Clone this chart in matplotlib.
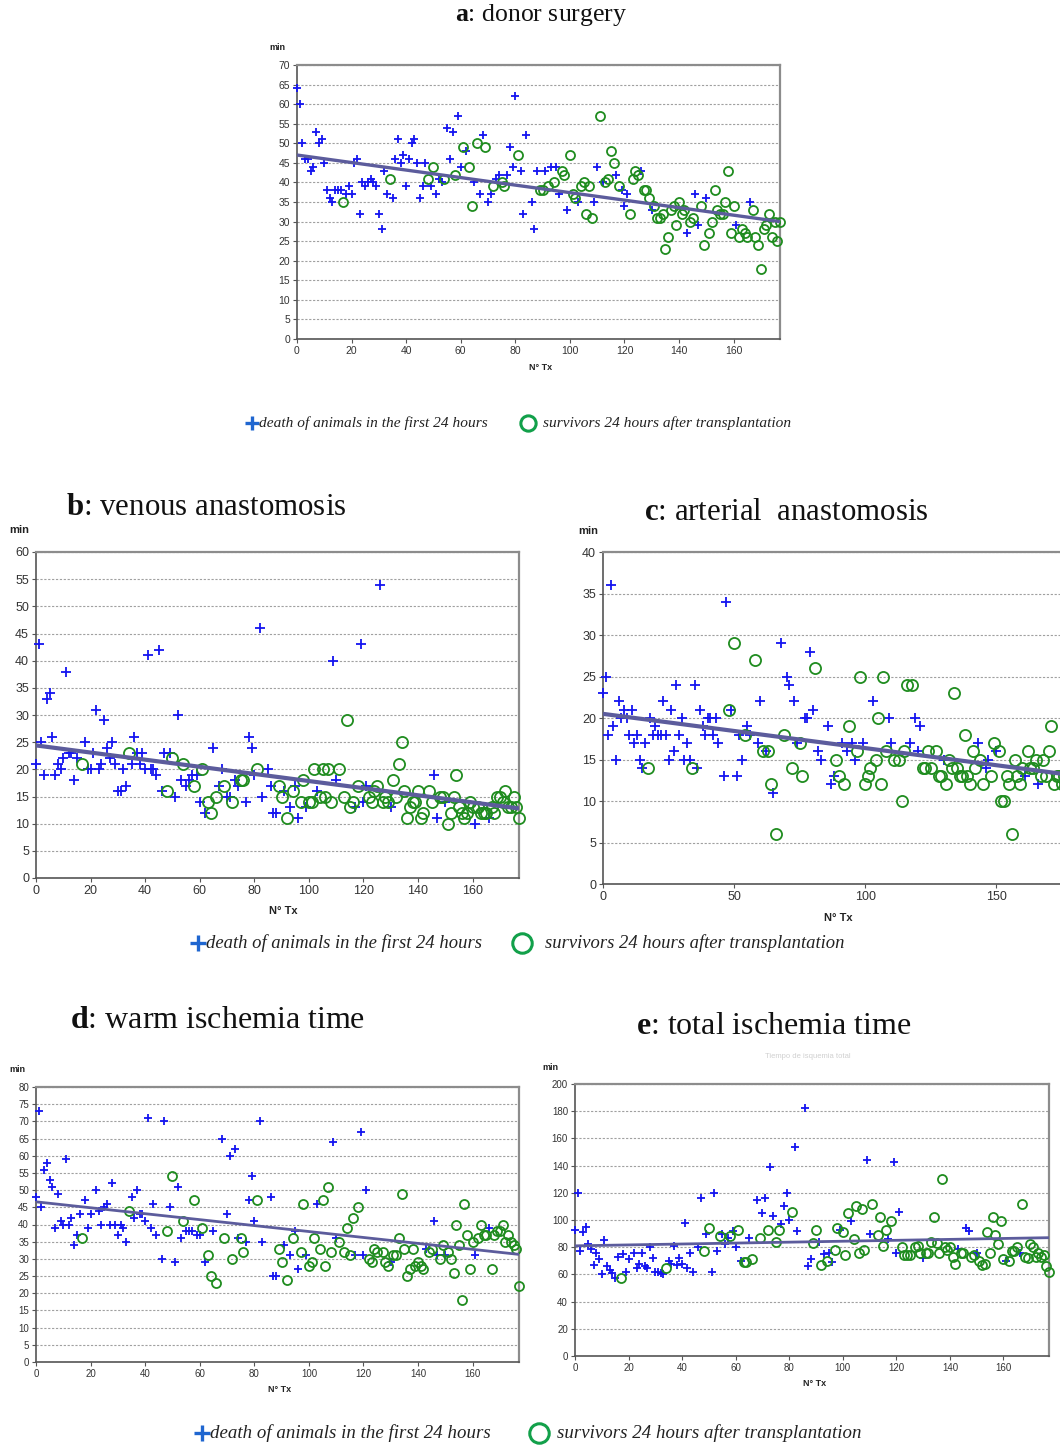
import matplotlib
matplotlib.use("Agg")
import matplotlib.pyplot as plt
from matplotlib.lines import Line2D

plt.rcParams['font.family'] = ['Liberation Sans', 'DejaVu Sans']
plt.rcParams['mathtext.fontset'] = 'custom'
plt.rcParams['mathtext.rm'] = 'Liberation Serif'
plt.rcParams['mathtext.bf'] = 'Liberation Serif:bold'

# ---------------- data ----------------
a_death = [(0,64),(1,60),(2,50),(3,46),(4,46),(5,43),(6,44),(7,53),(8,50),(9,51),(10,45),(11,38),(12,36),(13,35),(14,38),(15,38),(16,38),(18,37),(19,39),(20,37),(21,45),(22,46),(23,32),(24,40),(25,39),(26,40),(27,41),(28,40),(29,39),(30,32),(31,28),(32,43),(33,37),(35,36),(36,46),(37,51),(38,45),(39,47),(40,39),(41,46),(42,50),(43,51),(44,45),(45,36),(46,39),(47,45),(49,39),(51,37),(52,41),(53,40),(55,54),(56,46),(57,53),(59,57),(60,44),(62,48),(65,40),(67,37),(68,52),(70,35),(71,37),(73,41),(74,42),(77,42),(78,49),(79,44),(80,62),(82,43),(83,32),(84,52),(86,35),(87,28),(88,43),(91,43),(93,44),(95,44),(96,37),(99,33),(103,35),(109,35),(110,44),(112,40),(117,42),(119,38),(120,34),(121,37),(126,43),(130,33),(143,27),(146,37),(147,29),(150,36),(161,29),(166,35)]
a_surv = [(17,35),(34,41),(48,41),(50,44),(54,41),(58,42),(61,49),(63,44),(64,34),(66,50),(69,49),(72,39),(75,40),(76,39),(81,47),(89,38),(90,38),(92,39),(94,40),(97,43),(98,42),(100,47),(101,37),(102,36),(104,39),(105,40),(106,32),(107,39),(108,31),(111,57),(113,40),(114,41),(115,48),(116,45),(118,39),(122,32),(123,41),(124,43),(125,42),(127,38),(128,38),(129,36),(131,34),(132,31),(133,31),(134,32),(135,23),(136,26),(137,33),(138,34),(139,29),(140,35),(141,32),(142,33),(144,30),(145,31),(148,34),(149,24),(151,27),(152,30),(153,38),(154,33),(155,32),(156,32),(157,35),(158,43),(159,27),(160,34),(162,26),(163,28),(164,27),(165,26),(167,33),(168,26),(169,24),(170,18),(171,28),(172,29),(173,32),(174,26),(175,30),(176,25),(177,30)]
a_trend = [47, 30]

b_death = [(0,21),(1,43),(2,25),(3,19),(4,33),(5,34),(6,26),(7,19),(8,21),(9,20),(10,22),(11,38),(12,23),(13,23),(14,18),(15,22),(18,25),(19,20),(20,20),(21,23),(22,31),(23,20),(24,21),(25,29),(26,24),(27,22),(28,25),(29,21),(30,16),(31,16),(32,20),(33,17),(35,21),(36,26),(37,23),(38,21),(39,23),(40,20),(41,41),(42,20),(43,20),(44,19),(45,42),(46,16),(47,23),(49,23),(51,15),(52,30),(53,18),(55,17),(56,18),(57,19),(59,19),(60,14),(62,12),(65,24),(67,17),(68,20),(70,15),(71,15),(73,18),(74,17),(77,14),(78,26),(79,24),(80,19),(82,46),(83,15),(85,20),(86,17),(87,12),(88,12),(91,16),(93,13),(95,17),(96,11),(99,13),(103,16),(109,40),(110,18),(117,13),(119,43),(120,14),(121,17),(126,54),(130,13),(146,19),(147,11),(150,14),(161,10),(166,11)]
b_surv = [(17,21),(34,23),(48,16),(50,22),(54,21),(58,17),(61,20),(63,14),(64,12),(66,15),(69,17),(72,14),(75,18),(76,18),(81,20),(89,17),(90,15),(92,11),(94,16),(97,14),(98,18),(100,14),(101,14),(102,20),(104,15),(105,20),(106,15),(107,20),(108,14),(111,20),(113,15),(114,29),(115,13),(116,14),(118,17),(122,15),(123,14),(124,16),(125,17),(127,14),(128,15),(129,14),(131,18),(132,15),(133,21),(134,25),(135,16),(136,11),(137,13),(138,14),(139,14),(140,16),(141,11),(142,12),(144,16),(145,14),(148,15),(149,15),(151,10),(152,12),(153,15),(154,19),(155,13),(156,12),(157,11),(158,12),(159,14),(160,13),(162,13),(163,12),(164,12),(165,12),(167,13),(168,12),(169,15),(170,15),(171,14),(172,16),(173,13),(174,13),(175,15),(176,13),(177,11)]
b_trend = [24.4, 12.8]

c_death = [(0,23),(1,25),(2,18),(3,36),(4,19),(5,15),(6,22),(7,20),(8,21),(9,20),(10,18),(11,21),(12,17),(13,18),(14,15),(15,14),(16,17),(18,20),(19,18),(20,19),(21,18),(22,18),(23,22),(24,18),(25,15),(26,21),(27,16),(28,24),(29,18),(30,20),(31,15),(32,17),(33,15),(35,24),(36,14),(37,21),(38,19),(39,18),(40,20),(41,20),(42,18),(43,20),(44,17),(46,13),(47,34),(49,21),(51,13),(52,18),(53,15),(55,19),(56,18),(59,17),(60,22),(62,16),(65,11),(68,29),(70,25),(71,24),(73,22),(74,17),(77,20),(78,20),(79,28),(80,21),(82,16),(83,15),(86,19),(87,12),(88,13),(91,17),(93,16),(95,17),(96,15),(99,17),(103,22),(109,20),(110,17),(117,17),(119,20),(120,16),(121,19),(130,15),(143,17),(146,14),(147,15),(150,16),(161,13),(166,12)]
c_surv = [(17,14),(34,14),(48,21),(50,29),(54,18),(58,27),(61,16),(63,16),(64,12),(66,6),(69,18),(72,14),(75,17),(76,13),(81,26),(89,15),(90,13),(92,12),(94,19),(97,16),(98,25),(100,12),(101,13),(102,14),(104,15),(105,20),(106,12),(107,25),(108,16),(111,15),(113,15),(114,10),(115,16),(116,24),(118,24),(122,14),(123,14),(124,16),(125,14),(127,16),(128,13),(129,13),(131,12),(132,15),(133,14),(134,23),(135,14),(136,13),(137,13),(138,18),(139,13),(140,12),(141,16),(142,14),(144,15),(145,12),(148,13),(149,17),(151,16),(152,10),(153,10),(154,13),(155,12),(156,6),(157,15),(158,13),(159,12),(160,14),(162,16),(163,14),(164,14),(165,15),(167,13),(168,15),(169,13),(170,16),(171,19),(172,12),(173,13),(174,13),(175,12),(176,13),(177,14)]
c_trend = [20.5, 13.2]

d_death = [(0,48),(1,73),(2,45),(3,56),(4,58),(5,53),(6,51),(7,39),(8,49),(9,41),(10,40),(11,59),(12,40),(13,42),(14,34),(15,37),(16,43),(18,47),(19,39),(20,43),(22,50),(23,44),(24,40),(25,45),(26,46),(27,40),(28,52),(29,40),(30,37),(31,40),(32,39),(33,35),(35,48),(36,42),(37,50),(38,43),(39,43),(40,41),(41,71),(42,39),(43,46),(44,37),(46,30),(47,70),(49,45),(51,29),(52,51),(53,36),(55,38),(56,38),(57,38),(59,37),(60,37),(62,29),(65,38),(68,65),(70,43),(71,60),(73,62),(74,36),(77,35),(78,47),(79,54),(80,41),(82,70),(83,35),(86,48),(87,25),(88,25),(91,34),(93,31),(95,38),(96,27),(99,31),(103,46),(109,64),(110,36),(117,31),(119,67),(120,31),(121,50),(130,29),(143,33),(146,41),(147,31),(150,31),(161,31),(166,39)]
d_surv = [(17,36),(34,44),(48,38),(50,54),(54,41),(58,47),(61,39),(63,31),(64,25),(66,23),(69,36),(72,30),(75,36),(76,32),(81,47),(89,33),(90,29),(92,24),(94,36),(97,32),(98,46),(100,28),(101,29),(102,36),(104,33),(105,47),(106,28),(107,51),(108,32),(111,35),(113,32),(114,39),(115,31),(116,42),(118,45),(122,30),(123,29),(124,33),(125,32),(127,32),(128,29),(129,28),(131,31),(132,31),(133,36),(134,49),(135,33),(136,25),(137,27),(138,33),(139,28),(140,29),(141,28),(142,27),(144,32),(145,33),(148,30),(149,34),(151,32),(152,30),(153,26),(154,40),(155,34),(156,18),(157,46),(158,37),(159,27),(160,35),(162,36),(163,40),(164,37),(165,37),(167,27),(168,37),(169,38),(170,38),(171,40),(172,35),(173,37),(174,35),(175,34),(176,33),(177,22)]
d_trend = [46.6, 31.3]

e_death = [(0,93),(1,120),(2,77),(3,91),(4,95),(5,82),(6,79),(7,67),(8,76),(9,71),(10,60),(11,85),(12,66),(13,63),(14,61),(15,57),(16,73),(18,75),(19,62),(20,71),(22,76),(23,65),(24,68),(25,76),(26,66),(27,65),(28,80),(29,72),(30,62),(31,62),(32,61),(33,60),(35,70),(36,68),(37,81),(38,67),(39,72),(40,68),(41,98),(42,65),(43,76),(44,62),(46,80),(47,116),(49,90),(51,62),(52,120),(53,77),(55,90),(56,82),(57,87),(59,92),(60,80),(62,70),(65,87),(68,115),(70,105),(71,116),(73,139),(74,103),(77,97),(78,110),(79,120),(80,100),(82,154),(83,92),(86,182),(87,66),(88,71),(91,84),(93,75),(95,76),(96,69),(99,93),(103,99),(109,144),(110,90),(117,86),(119,143),(120,76),(121,106),(130,72),(143,79),(146,94),(147,92),(150,76),(161,70),(166,76)]
e_surv = [(17,57),(34,65),(48,77),(50,94),(54,88),(58,88),(61,93),(63,69),(64,69),(66,71),(69,87),(72,93),(75,84),(76,93),(81,106),(89,83),(90,93),(92,67),(94,70),(97,78),(98,94),(100,91),(101,74),(102,105),(104,86),(105,110),(106,76),(107,108),(108,78),(111,112),(113,89),(114,102),(115,81),(116,93),(118,99),(122,80),(123,74),(124,74),(125,74),(127,80),(128,81),(129,76),(131,76),(132,76),(133,84),(134,102),(135,83),(136,76),(137,130),(138,80),(139,78),(140,80),(141,73),(142,68),(144,76),(145,76),(148,73),(149,74),(151,70),(152,67),(153,68),(154,91),(155,76),(156,102),(157,89),(158,82),(159,99),(160,71),(162,70),(163,77),(164,77),(165,80),(167,112),(168,73),(169,72),(170,82),(171,80),(172,73),(173,76),(174,73),(175,74),(176,66),(177,62)]
e_trend = [81, 87]

trend_x = [0, 177]

titles = {'a': 'donor surgery', 'b': 'venous anastomosis', 'c': 'arterial  anastomosis',
          'd': 'warm ischemia time', 'e': 'total ischemia time'}
legend_death = 'death of animals in the first 24 hours'
legend_surv = 'survivors 24 hours after transplantation'

# ---------------- figure ----------------
W, H = 1060, 1445
fig = plt.figure(figsize=(W / 100, H / 100), dpi=100)


def px_axes(l, t, r, b):
    return fig.add_axes([l / W, 1 - b / H, (r - l) / W, (b - t) / H])


BLUE = '#1414f0'
GREEN = '#1f8c1f'
LINE = '#5c5c9c'


def panel(rect, death, surv, trend, yticks, xticks, fs_tick, ms_plus, ms_circ, lw_line,
          minpos, txpos, fs_lab):
    ax = px_axes(*rect)
    ymax = yticks[-1]
    ax.set_xlim(0, 177)
    ax.set_ylim(0, ymax)
    ax.set_yticks(yticks)
    ax.set_xticks(xticks)
    ax.yaxis.grid(True, color='#a0a0a0', linestyle=(0, (2, 1.5)), linewidth=0.8)
    ax.set_axisbelow(True)
    for s in ['top', 'right']:
        ax.spines[s].set_color('#8c8c8c')
        ax.spines[s].set_linewidth(1.6)
    for s in ['left', 'bottom']:
        ax.spines[s].set_color('#555555')
        ax.spines[s].set_linewidth(1.2)
    ax.tick_params(direction='out', length=3, width=0.8, color='#555555',
                   labelsize=fs_tick, labelcolor='#333333', pad=2)
    ax.plot([p[0] for p in death], [p[1] for p in death], linestyle='none', marker='+',
            color=BLUE, markersize=ms_plus, markeredgewidth=1.3, clip_on=False, zorder=3)
    ax.plot([p[0] for p in surv], [p[1] for p in surv], linestyle='none', marker='o',
            markerfacecolor='none', markeredgecolor=GREEN, markersize=ms_circ,
            markeredgewidth=1.3, clip_on=False, zorder=3)
    ax.plot(trend_x, trend, color=LINE, linewidth=lw_line, zorder=4, solid_capstyle='butt')
    fig.text(minpos[0] / W, 1 - minpos[1] / H, 'min', fontsize=fs_lab, fontweight='bold',
             ha='left', va='center', color='#222222')
    fig.text(txpos[0] / W, 1 - txpos[1] / H, 'N° Tx', fontsize=fs_lab, fontweight='bold',
             ha='center', va='center', color='#222222')
    return ax


panel((297, 65, 780, 339), a_death, a_surv, a_trend, list(range(0, 71, 5)),
      list(range(0, 161, 20)), 7.5, 6, 6.5, 2.4, (269, 47), (541, 367), 6.5)
panel((36, 552, 519, 878), b_death, b_surv, b_trend, list(range(0, 61, 5)),
      list(range(0, 161, 20)), 9, 7, 8, 3, (9, 530), (283, 911), 8)
panel((603, 552, 1067, 884), c_death, c_surv, c_trend, list(range(0, 41, 5)),
      [0, 50, 100, 150], 9, 7, 8, 3, (578, 531), (838, 918), 8)
panel((36, 1087, 519, 1362), d_death, d_surv, d_trend, list(range(0, 81, 5)),
      list(range(0, 161, 20)), 7, 6, 6.5, 2, (9, 1070), (280, 1389), 6.5)
panel((575, 1084, 1049, 1356), e_death, e_surv, e_trend, list(range(0, 201, 20)),
      list(range(0, 161, 20)), 7, 6, 6.5, 2, (542, 1067), (815, 1384), 6.5)

# titles
title_pos = {'a': (541, 15, 18.5), 'b': (206, 507, 22.2), 'c': (786, 512, 22.2),
             'd': (218, 1021, 23), 'e': (774, 1026, 23)}
for k, (x, y, fs) in title_pos.items():
    fig.text(x / W, 1 - y / H, r'$\mathbf{' + k + '}$: ' + titles[k], fontsize=fs,
             family='Liberation Serif', ha='center', va='center', color='#111111')

fig.text(808 / W, 1 - 1057 / H, 'Tiempo de isquemia total', fontsize=5.5,
         color='#d0d0d0', ha='center', va='center')


# legends
def legend_row(y, plus_x, text1_x, circ_x, text2_x, fs, ms_plus, ms_circ):
    yf = 1 - y / H
    fig.add_artist(Line2D([plus_x / W], [yf], marker='+', color='#1f66d0', markersize=ms_plus,
                          markeredgewidth=2.4, transform=fig.transFigure))
    fig.text(text1_x / W, yf, legend_death, fontsize=fs, style='italic',
             family='Liberation Serif', ha='left', va='center', color='#222222')
    fig.add_artist(Line2D([circ_x / W], [yf], marker='o', markerfacecolor='none',
                          markeredgecolor='#12a04a', markersize=ms_circ, markeredgewidth=2.2,
                          transform=fig.transFigure))
    fig.text(text2_x / W, yf, legend_surv, fontsize=fs, style='italic',
             family='Liberation Serif', ha='left', va='center', color='#222222')


legend_row(423, 252, 259, 528, 543, 11.1, 10, 11)
legend_row(943, 198, 206, 522, 545, 13.4, 12, 14)
legend_row(1433, 202, 210, 539, 557, 13.6, 12, 14)

fig.savefig('out.png', dpi=100, facecolor='white')
